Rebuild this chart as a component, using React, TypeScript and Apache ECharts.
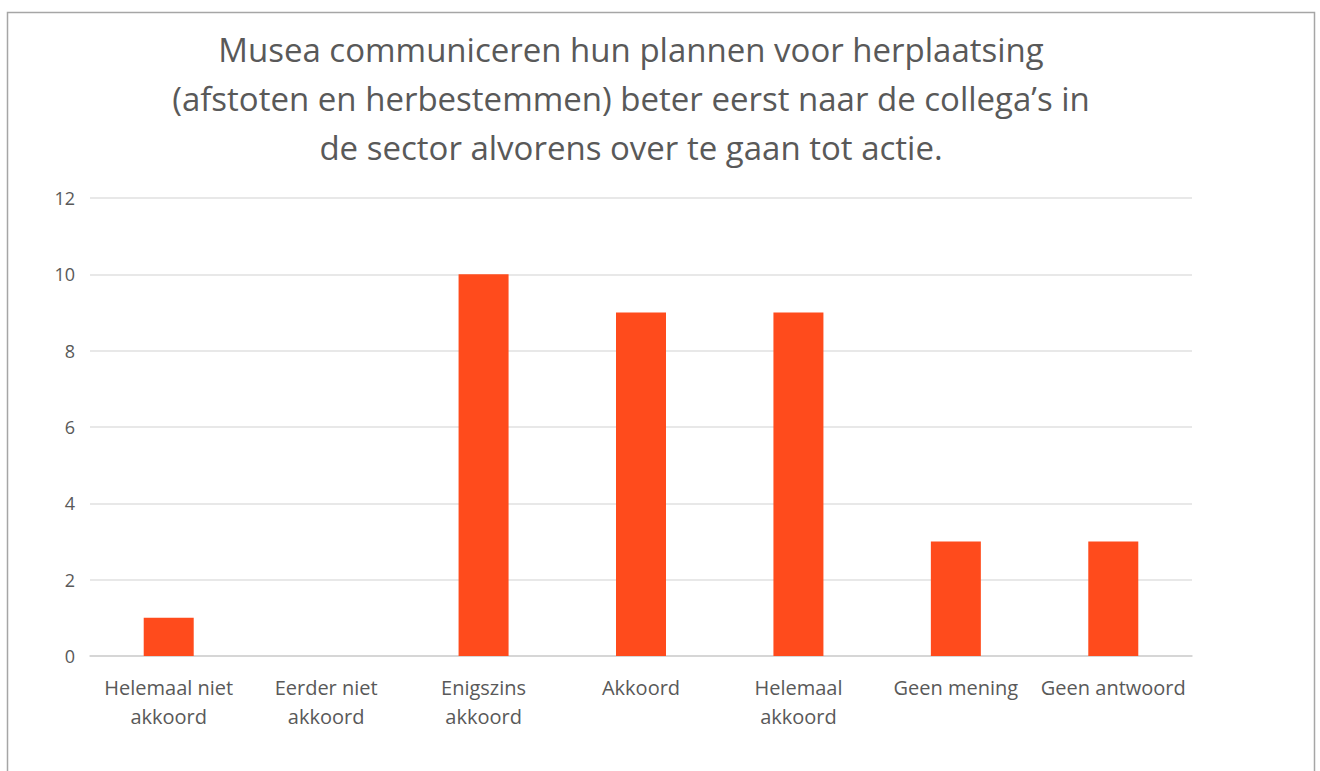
import React, { useEffect, useRef } from "react";
import * as echarts from "echarts";

const categories = [
  "Helemaal niet\nakkoord",
  "Eerder niet\nakkoord",
  "Enigszins\nakkoord",
  "Akkoord",
  "Helemaal\nakkoord",
  "Geen mening",
  "Geen antwoord",
];
const values = [1, 0, 10, 9, 9, 3, 3];
const yTicks = { min: 0, max: 12, interval: 2 };
const titleText =
  "Musea communiceren hun plannen voor herplaatsing\n(afstoten en herbestemmen) beter eerst naar de collega\u2019s in\nde sector alvorens over te gaan tot actie.";

export default function App() {
  const ref = useRef<HTMLDivElement>(null);
  useEffect(() => {
    const chart = echarts.init(ref.current!, null, { renderer: "svg" });
    chart.setOption({
      animation: false,
      backgroundColor: "#ffffff",
      textStyle: { fontFamily: "Open Sans" },
      title: {
        text: titleText,
        left: 626,
        textAlign: "center",
        top: 20,
        textStyle: {
          fontFamily: "Open Sans",
          fontSize: 33,
          fontWeight: "normal",
          color: "#595959",
          lineHeight: 49,
        },
      },
      graphic: [
        {
          type: "rect",
          shape: { x: 7.5, y: 12.5, width: 1307, height: 800 },
          style: { fill: "none", stroke: "#a6a6a6", lineWidth: 1.5 },
          silent: true,
          z: -1,
        },
      ],
      grid: { left: 90, right: 128, top: 198, bottom: 115, containLabel: false },
      xAxis: {
        type: "category",
        data: categories,
        axisLine: { lineStyle: { color: "#d0d0d0", width: 1.5 } },
        axisTick: { show: false },
        axisLabel: {
          color: "#595959",
          fontSize: 20,
          lineHeight: 29,
          margin: 17,
          interval: 0,
          fontFamily: "Open Sans",
        },
      },
      yAxis: {
        type: "value",
        min: yTicks.min,
        max: yTicks.max,
        interval: yTicks.interval,
        axisLine: { show: false },
        axisTick: { show: false },
        splitLine: { lineStyle: { color: "#e0e0e0", width: 1.5 } },
        axisLabel: {
          color: "#595959",
          fontSize: 18,
          margin: 15,
          fontFamily: "Open Sans",
        },
      },
      series: [
        {
          type: "bar",
          data: values,
          barWidth: 50,
          itemStyle: { color: "#ff4b1c" },
        },
      ],
    });
    return () => chart.dispose();
  }, []);
  return (
    <div
      ref={ref}
      style={{ position: "fixed", left: 0, top: 0, width: 1320, height: 771 }}
    />
  );
}
